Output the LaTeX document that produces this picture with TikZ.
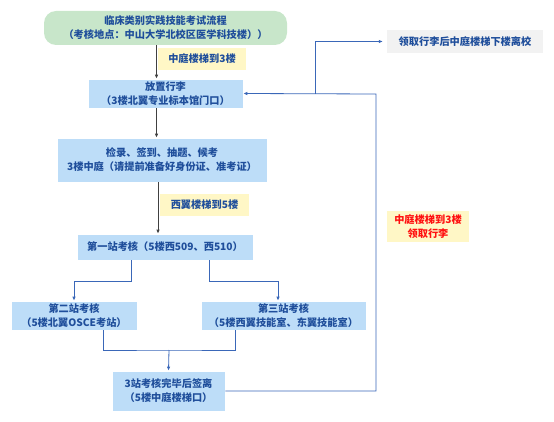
\documentclass[tikz,border=0pt]{standalone}
\usepackage{fontspec}
\setmainfont{Noto Sans CJK SC}
\usetikzlibrary{arrows.meta}
\definecolor{boxblue}{HTML}{BDDDF8}
\definecolor{boxgreen}{HTML}{C8E6CA}
\definecolor{notey}{HTML}{FFF7C6}
\definecolor{endgray}{HTML}{F2F2F2}
\definecolor{txtblue}{HTML}{1F4E9B}
\definecolor{lineblue}{HTML}{3A67B8}
\definecolor{linegray}{HTML}{404040}
\definecolor{notered}{HTML}{FF1010}

\begin{document}
\begin{tikzpicture}[x=1pt,y=-1pt,
  every node/.style={font=\fontsize{10.2}{14}\selectfont\bfseries, text=txtblue, align=center, inner sep=0pt},
  stepbox/.style={fill=boxblue, draw=white, line width=0.6pt},
  notebox/.style={fill=notey},
  grayarrow/.style={draw=linegray, line width=0.8pt, -{Latex[length=4pt,width=3.5pt]}},
  bluearrow/.style={draw=lineblue, line width=0.8pt, -{Latex[length=4pt,width=3.5pt]}},
  blueline/.style={draw=lineblue, line width=0.8pt}]
\useasboundingbox (0,0) rectangle (554,422);
% boxes
\node[fill=boxgreen, rounded corners=12pt, minimum width=243, minimum height=34] (start) at (165.5,28) {临床类别实践技能考试流程\\（考核地点：中山大学北校区医学科技楼））};
\node[stepbox, minimum width=155, minimum height=29] (bag) at (165.5,93.5) {放置行李\\（3楼北翼专业标本馆门口）};
\node[stepbox, minimum width=210, minimum height=44] (check) at (162,160) {检录、签到、抽题、候考\\3楼中庭（请提前准备好身份证、准考证）};
\node[stepbox, minimum width=176, minimum height=26] (s1) at (165,247) {第一站考核（5楼西509、西510）};
\node[stepbox, minimum width=126, minimum height=29] (s2) at (74,315.5) {第二站考核\\（5楼北翼OSCE考站）};
\node[stepbox, minimum width=165, minimum height=29] (s3) at (283.5,315.5) {第三站考核\\（5楼西翼技能室、东翼技能室）};
\node[stepbox, minimum width=113, minimum height=40] (done) at (168.5,391) {3站考核完毕后签离\\（5楼中庭楼梯口）};
\node[fill=endgray, minimum width=156, minimum height=23] (leave) at (465,41.5) {领取行李后中庭楼梯下楼离校};
% notes
\node[notebox, minimum width=88, minimum height=22] (n1) at (202,59) {中庭楼梯到3楼};
\node[notebox, minimum width=89, minimum height=22] (n2) at (204.5,205) {西翼楼梯到5楼};
\node[notebox, text=notered, minimum width=82, minimum height=31] (n3) at (428,226.5) {中庭楼梯到3楼\\领取行李};
% connectors
\draw[grayarrow] ([xshift=-9pt]start.south) -- ([xshift=-9pt]bag.north);
\draw[grayarrow] ([xshift=-9pt]bag.south) -- ([xshift=-5.5pt]check.north);
\draw[grayarrow] ([xshift=-4pt]check.south) -- ([xshift=-7pt]s1.north);
\draw[bluearrow] ([xshift=-34pt]s1.south) -- ++(0,21) -| (s2.north);
\draw[bluearrow] ([xshift=44pt]s1.south) -- ++(0,21) -| ([xshift=-5.5pt]s3.north);
\coordinate (merge) at (169,350);
\draw[blueline] ([xshift=29pt]s2.south) |- (merge) -| ([xshift=-48.5pt]s3.south);
\draw[bluearrow] (merge) -- (done.north);
\coordinate (back) at (376,94);
\coordinate (fork) at (315,94);
\draw[bluearrow] (done.east) -| (back) -- (bag.east);
\draw[bluearrow] (fork) |- ([xshift=-4pt]leave.west);
\end{tikzpicture}
\end{document}
